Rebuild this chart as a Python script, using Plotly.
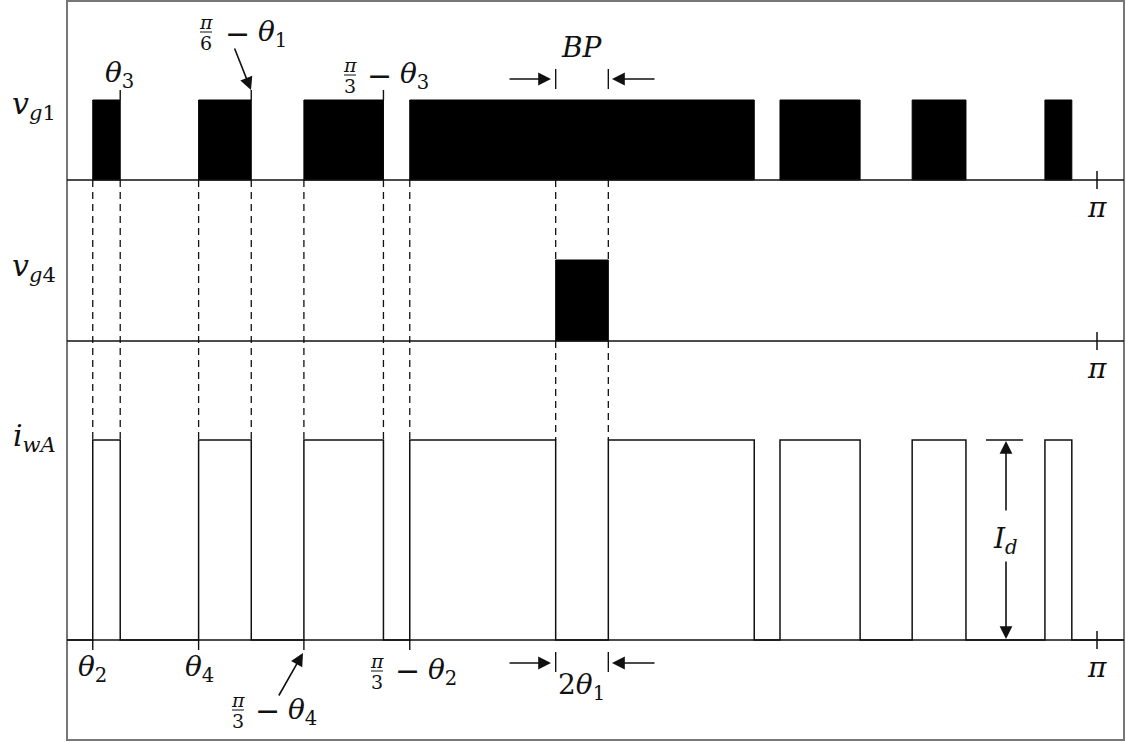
import plotly.graph_objects as go

# ---------------- data (angles in degrees, 0..180 corresponds to 0..pi) ----------------
g1_on = [4.5, 23.0, 41.4, 59.9, 124.6, 147.7, 170.9]
g1_off = [9.3, 32.2, 55.3, 120.1, 138.6, 157.1, 175.6]
g4_on = [85.4]
g4_off = [94.6]
iwa_on = [4.5, 23.0, 41.4, 59.9, 94.6, 124.6, 147.7, 170.9]
iwa_off = [9.3, 32.2, 55.3, 85.4, 120.1, 138.6, 157.1, 175.6]
guide_angles = [4.5, 9.3, 23.0, 32.2, 41.4, 55.3, 59.9]
bp_angles = [85.4, 94.6]
top_marked = [9.3, 32.2, 55.3]
bottom_marked = [4.5, 23.0, 41.4, 59.9]
PI_DEG = 180.0

# ---------------- layout constants ----------------
W, H = 1126, 742
X0 = 67.0
PPD = 1030.0 / 180.0          # pixels per degree


def d(px):
    """horizontal page position (px) -> axis units (deg)"""
    return (px - X0) / PPD


FRAME_R = d(1124)
# panel levels (page px from top)
G1_BASE, G1_TOP = 180, 100
G4_BASE, G4_TOP = 341, 260
I_BASE, I_TOP = 640, 440

FONT = "DejaVu Serif, Liberation Serif, serif"
BLACK = "#000000"

fig = go.Figure()


def add_line(xs, ys, width=1.5, dash=None, color="#111111"):
    fig.add_trace(go.Scatter(x=xs, y=ys, mode="lines", hoverinfo="skip",
                             line=dict(color=color, width=width, dash=dash),
                             showlegend=False))


def pulses(on, off, base, top):
    xs, ys = [], []
    for a, b in zip(on, off):
        xs += [a, a, b, b, a, None]
        ys += [base, top, top, base, base, None]
    fig.add_trace(go.Scatter(x=xs, y=ys, mode="lines", fill="toself",
                             fillcolor=BLACK, line=dict(color=BLACK, width=1),
                             hoverinfo="skip", showlegend=False))


# black gate pulses
pulses(g1_on, g1_off, G1_BASE, G1_TOP)
pulses(g4_on, g4_off, G4_BASE, G4_TOP)

# i_wA waveform
xs, ys = [0], [I_BASE]
for a, b in zip(iwa_on, iwa_off):
    xs += [a, a, b, b]
    ys += [I_BASE, I_TOP, I_TOP, I_BASE]
xs.append(FRAME_R)
ys.append(I_BASE)
add_line(xs, ys, width=1.5)

# baselines
bx, by = [], []
for base in (G1_BASE, G4_BASE, I_BASE):
    bx += [0, FRAME_R, None]
    by += [base, base, None]
add_line(bx, by, width=1.6)

# pi ticks
tx, ty = [], []
for base in (G1_BASE, G4_BASE, I_BASE):
    tx += [PI_DEG, PI_DEG, None]
    ty += [base - 9, base + 9, None]
add_line(tx, ty, width=1.5)

# dashed guide lines
gx, gy = [], []
for a in guide_angles:
    gx += [a, a, None]
    gy += [G1_BASE, I_TOP, None]
for a in bp_angles:
    gx += [a, a, None, a, a, None]
    gy += [G1_BASE, G4_TOP, None, G4_BASE, I_TOP, None]
add_line(gx, gy, width=1.3, dash="7px,5px")

# solid marker ticks
sx, sy = [], []
for a in top_marked:
    sx += [a, a, None]
    sy += [G1_TOP - 10, G1_TOP, None]
for a in bp_angles:
    sx += [a, a, None, a, a, None]
    sy += [69, 89, None, 652, 672, None]
for a in bottom_marked:
    sx += [a, a, None]
    sy += [I_BASE, I_BASE + 10, None]
# I_d reference tick
sx += [d(986), d(1023), None]
sy += [I_TOP, I_TOP, None]
add_line(sx, sy, width=1.4)

# ---------------- text ----------------
ann = []


def text(xpx, y, t, size=28, xanchor="center"):
    ann.append(dict(x=d(xpx), y=y, xref="x", yref="y", text=t, showarrow=False,
                    xanchor=xanchor, yanchor="middle",
                    font=dict(family=FONT, size=size, color="#111111")))


def arrow(tail, head):
    ann.append(dict(x=d(head[0]), y=head[1], ax=d(tail[0]), ay=tail[1],
                    xref="x", yref="y", axref="x", ayref="y", text="",
                    showarrow=True, arrowhead=2, arrowsize=1.6, arrowwidth=1.6,
                    arrowcolor="#111111", standoff=0, startstandoff=0))


fx, fy = [], []


def frac(xc, ybar, num, den):
    text(xc, ybar - 10, num, size=19)
    text(xc, ybar + 11, den, size=19)
    fx.extend([d(xc - 6), d(xc + 6), None])
    fy.extend([ybar, ybar, None])


# left labels
text(34, 105, "<i>v</i><sub><i>g</i>1</sub>", size=30)
text(34, 267, "<i>v</i><sub><i>g</i>4</sub>", size=30)
text(34, 437, "<i>i</i><sub><i>wA</i></sub>", size=30)

# top annotations
text(119, 74, "<i>θ</i><sub>3</sub>")
frac(206, 32, "<i>π</i>", "6")
text(237, 33, "−", size=30)
text(256, 33, "<i>θ</i><sub>1</sub>", xanchor="left")
arrow((234, 47), (251, 90))
frac(350, 75, "<i>π</i>", "3")
text(379, 75, "−", size=30)
text(398, 75, "<i>θ</i><sub>3</sub>", xanchor="left")
text(582, 47, "<i>BP</i>")
arrow((508, 79), (551, 79))
arrow((656, 79), (612, 79))

# pi labels
text(1097, 207, "<i>π</i>")
text(1097, 368, "<i>π</i>")
text(1097, 667, "<i>π</i>")

# bottom annotations
text(92, 668, "<i>θ</i><sub>2</sub>")
text(199, 668, "<i>θ</i><sub>4</sub>")
frac(238, 710, "<i>π</i>", "3")
text(267, 710, "−", size=30)
text(286, 711, "<i>θ</i><sub>4</sub>", xanchor="left")
arrow((278, 697), (303, 653))
frac(377, 671, "<i>π</i>", "3")
text(407, 670, "−", size=30)
text(426, 671, "<i>θ</i><sub>2</sub>", xanchor="left")
text(581, 686, "2<i>θ</i><sub>1</sub>")
arrow((508, 663), (551, 663))
arrow((656, 663), (612, 663))

# I_d
text(1005, 540, "<i>I</i><sub><i>d</i></sub>")
arrow((1006, 512), (1006, 441))
arrow((1006, 560), (1006, 639))

add_line(fx, fy, width=1.0)

fig.update_layout(
    width=W, height=H,
    margin=dict(l=0, r=0, t=0, b=0),
    paper_bgcolor="white", plot_bgcolor="white",
    font=dict(family=FONT),
    xaxis=dict(range=[d(0), d(W)], visible=False, fixedrange=True),
    yaxis=dict(range=[H, 0], visible=False, fixedrange=True),
    annotations=ann,
    shapes=[dict(type="rect", xref="x", yref="y", x0=0, x1=FRAME_R, y0=1, y1=740,
                 line=dict(color="#777777", width=2), layer="below")],
    showlegend=False,
)

fig.write_html("out.html")
